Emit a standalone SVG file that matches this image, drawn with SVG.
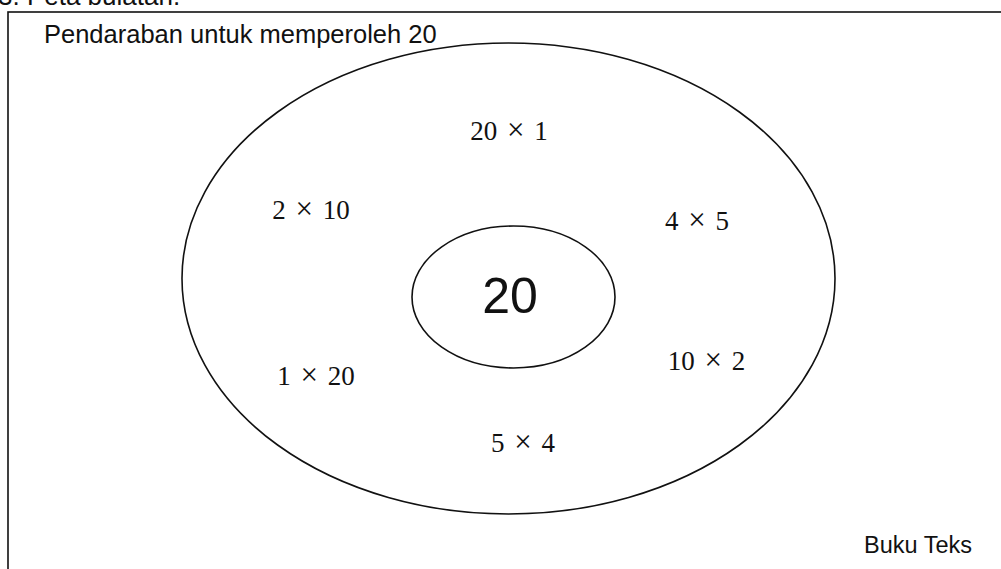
<svg xmlns="http://www.w3.org/2000/svg" width="1001" height="569" viewBox="0 0 1001 569">
<style>
.sans{font-family:"Liberation Sans",Arial,sans-serif;fill:#111}
.math{font-family:"Liberation Serif","Times New Roman",serif;font-size:27px;fill:#111;text-anchor:middle;word-spacing:3px}
.x{font-size:31px}
.line{fill:none;stroke:#111;stroke-width:1.6}
</style>
<rect width="1001" height="569" fill="#fff"/>
<text class="sans" x="-2" y="5" font-size="26">3. Peta bulatan.</text>
<rect class="line" x="8" y="12" width="1010" height="600"/>
<text class="sans" x="44" y="43" font-size="25.5">Pendaraban untuk memperoleh 20</text>
<g id="outer"><ellipse class="line" cx="508.5" cy="278.5" rx="326.5" ry="235.5"/></g>
<g id="center"><ellipse class="line" cx="513.5" cy="297" rx="101.5" ry="71"/>
<text class="sans" x="510" y="313" font-size="50" text-anchor="middle">20</text></g>
<g id="connectors"/>
<g id="n1"><text class="math" x="509" y="140">20 <tspan class="x">×</tspan> 1</text></g>
<g id="n2"><text class="math" x="311" y="219">2 <tspan class="x">×</tspan> 10</text></g>
<g id="n3"><text class="math" x="697" y="230">4 <tspan class="x">×</tspan> 5</text></g>
<g id="n4"><text class="math" x="706.5" y="370">10 <tspan class="x">×</tspan> 2</text></g>
<g id="n5"><text class="math" x="316" y="385">1 <tspan class="x">×</tspan> 20</text></g>
<g id="n6"><text class="math" x="523" y="452">5 <tspan class="x">×</tspan> 4</text></g>
<text class="sans" x="864" y="553" font-size="23.5">Buku Teks</text>
</svg>
